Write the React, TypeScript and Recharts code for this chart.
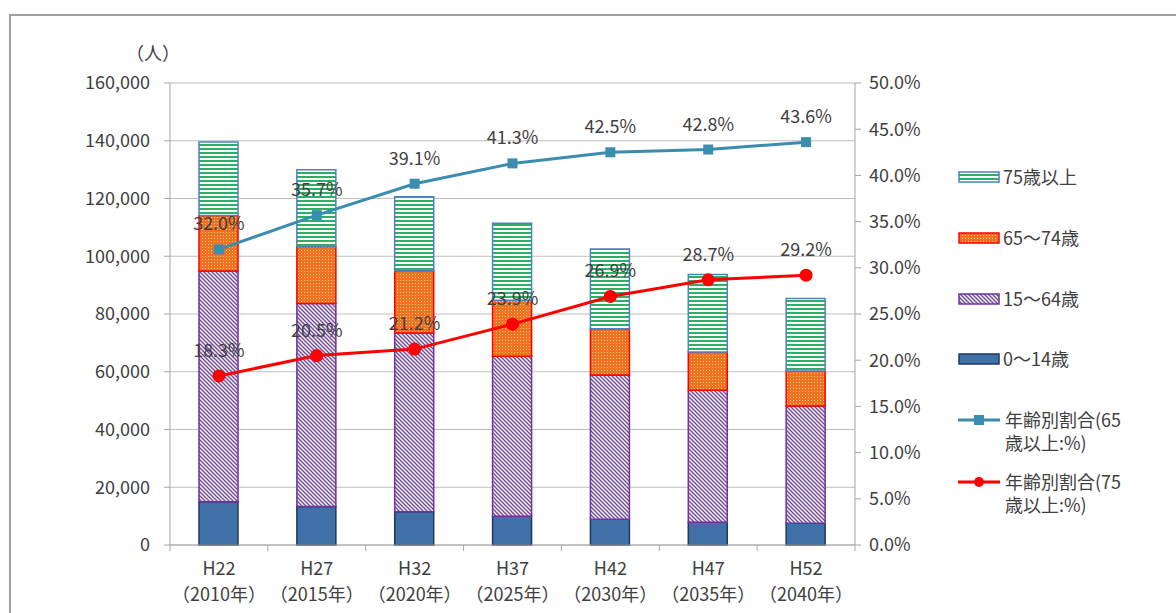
import {
  ComposedChart,
  Bar,
  Line,
  XAxis,
  YAxis,
  CartesianGrid,
  LabelList,
} from "recharts";

// 年齢別人口（人）と高齢化率（%）
const categories = ["H22", "H27", "H32", "H37", "H42", "H47", "H52"];
const years = ["（2010年）", "（2015年）", "（2020年）", "（2025年）", "（2030年）", "（2035年）", "（2040年）"];
const age0to14 = [15000, 13300, 11500, 10000, 8900, 7900, 7500];
const age15to64 = [79900, 70300, 61900, 55400, 50000, 45700, 40600];
const age65to74 = [19200, 19750, 21600, 19400, 16000, 13200, 12200];
const age75plus = [25500, 26650, 25600, 26650, 27600, 26900, 25100];
const ratio65 = [32.0, 35.7, 39.1, 41.3, 42.5, 42.8, 43.6];
const ratio75 = [18.3, 20.5, 21.2, 23.9, 26.9, 28.7, 29.2];
const leftTicks = [0, 20000, 40000, 60000, 80000, 100000, 120000, 140000, 160000];
const rightTicks = [0, 5, 10, 15, 20, 25, 30, 35, 40, 45, 50];

const FONT = '"Noto Sans CJK JP", "Noto Sans", sans-serif';
const TEXT = "#404040";
const AXIS = "#A6A6A6";
const FS = 18;

const data = categories.map((name, i) => ({
  name,
  a0: age0to14[i],
  a15: age15to64[i],
  a65: age65to74[i],
  a75: age75plus[i],
  r65: ratio65[i],
  r75: ratio75[i],
}));

const XTick = (props: any) => {
  const { x, y, payload, index } = props;
  const half = payload && payload.offset > 0 ? payload.offset : 48.9;
  return (
    <g>
      <line x1={x - half} x2={x - half} y1={y} y2={y + 6} stroke={AXIS} />
      {index === categories.length - 1 && (
        <line x1={x + half} x2={x + half} y1={y} y2={y + 6} stroke={AXIS} />
      )}
      <text x={x} y={y + 30} textAnchor="middle" fontSize={FS} fill={TEXT} fontFamily={FONT}>
        {payload.value}
      </text>
      <text x={x} y={y + 56} textAnchor="middle" fontSize={FS} fill={TEXT} fontFamily={FONT}>
        {years[index]}
      </text>
    </g>
  );
};

const pct = (v: any) => Number(v).toFixed(1) + "%";

// legend swatches, same patterns as the bars
function Swatch({ fill, stroke }: { fill: string; stroke: string }) {
  return (
    <svg width={42} height={14} style={{ display: "block" }}>
      <rect x={1} y={2} width={40} height={10} fill={fill} stroke={stroke} strokeWidth={1.5} />
    </svg>
  );
}

function LineSwatch({ color, square }: { color: string; square?: boolean }) {
  return (
    <svg width={44} height={14} style={{ display: "block" }}>
      <line x1={0} x2={42} y1={7} y2={7} stroke={color} strokeWidth={3} />
      {square ? (
        <rect x={16} y={2} width={10} height={10} fill={color} />
      ) : (
        <circle cx={21} cy={7} r={5} fill={color} />
      )}
    </svg>
  );
}

const legendItems = [
  { top: 168, label: "75歳以上", icon: <Swatch fill="url(#pGreen)" stroke="#4F81BD" /> },
  { top: 229, label: "65～74歳", icon: <Swatch fill="url(#pOrange)" stroke="#FF0000" /> },
  { top: 290, label: "15～64歳", icon: <Swatch fill="url(#pPurple)" stroke="#7030A0" /> },
  { top: 350, label: "0～14歳", icon: <Swatch fill="#4070A8" stroke="#1F3A60" /> },
  { top: 411, label: "年齢別割合(65\n歳以上:%)", icon: <LineSwatch color="#3B8DAE" square /> },
  { top: 473, label: "年齢別割合(75\n歳以上:%)", icon: <LineSwatch color="#FF0000" /> },
];

export default function App() {
  return (
    <div
      style={{
        position: "absolute",
        left: 0,
        top: 0,
        width: 1176,
        height: 613,
        overflow: "hidden",
        background: "#fff",
        fontFamily: FONT,
      }}
    >
      <div
        style={{
          position: "absolute",
          left: 9,
          top: 14,
          width: 1200,
          height: 700,
          border: "2px solid #A0A0A0",
        }}
      />
      <div style={{ position: "absolute", left: 126, top: 39, fontSize: FS, color: TEXT, lineHeight: "26px" }}>
        （人）
      </div>

      <div style={{ position: "absolute", left: 0, top: 0 }}>
        <ComposedChart
          width={1176}
          height={613}
          data={data}
          margin={{ top: 83, right: 251, left: 110, bottom: 8 }}
          barSize={39}
        >
          <defs>
            <pattern id="pGreen" width={4} height={4} patternUnits="userSpaceOnUse">
              <rect width={4} height={4} fill="#FFFFFF" />
              <rect width={4} height={2} fill="#2FAE68" />
            </pattern>
            <pattern id="pOrange" width={3} height={3} patternUnits="userSpaceOnUse">
              <rect width={3} height={3} fill="#EE7222" />
              <rect x={1} y={1} width={1} height={1} fill="#F9C878" />
            </pattern>
            <pattern id="pPurple" width={4} height={4} patternUnits="userSpaceOnUse">
              <rect width={4} height={4} fill="#F4EEF8" />
              <path d="M-1,-1 L5,5 M-1,3 L1,5 M3,-1 L5,1" stroke="#6E4A9A" strokeWidth={1.3} />
            </pattern>
          </defs>
          <CartesianGrid yAxisId="left" vertical={false} stroke="#BFBFBF" />
          <XAxis
            dataKey="name"
            height={60}
            axisLine={{ stroke: AXIS }}
            tickLine={false}
            tickSize={0}
            tickMargin={0}
            interval={0}
            tick={<XTick />}
          />
          <YAxis
            yAxisId="left"
            width={60}
            domain={[0, 160000]}
            ticks={leftTicks}
            axisLine={{ stroke: AXIS }}
            tickLine={{ stroke: AXIS }}
            tickSize={6}
            tickMargin={14}
            tick={{ fontSize: FS, fill: TEXT, fontFamily: FONT }}
            tickFormatter={(v) => v.toLocaleString("en-US")}
          />
          <YAxis
            yAxisId="right"
            orientation="right"
            width={70}
            domain={[0, 50]}
            ticks={rightTicks}
            axisLine={{ stroke: AXIS }}
            tickLine={{ stroke: AXIS }}
            tickSize={6}
            tickMargin={8}
            tick={{ fontSize: FS, fill: TEXT, fontFamily: FONT }}
            tickFormatter={pct}
          />
          <Bar yAxisId="left" dataKey="a0" stackId="s" fill="#4070A8" stroke="#1F3A60" strokeWidth={1.5} isAnimationActive={false} />
          <Bar yAxisId="left" dataKey="a15" stackId="s" fill="url(#pPurple)" stroke="#7030A0" strokeWidth={1.5} isAnimationActive={false} />
          <Bar yAxisId="left" dataKey="a65" stackId="s" fill="url(#pOrange)" stroke="#FF0000" strokeWidth={1.5} isAnimationActive={false} />
          <Bar yAxisId="left" dataKey="a75" stackId="s" fill="url(#pGreen)" stroke="#4F81BD" strokeWidth={1.5} isAnimationActive={false} />
          <Line
            yAxisId="right"
            dataKey="r65"
            stroke="#3B8DAE"
            strokeWidth={3}
            dot={(p: any) => (
              <rect key={p.index} x={p.cx - 5} y={p.cy - 5} width={10} height={10} fill="#3B8DAE" />
            )}
            isAnimationActive={false}
          >
            <LabelList dataKey="r65" position="top" offset={19} formatter={pct} fontSize={FS} fill={TEXT} fontFamily={FONT} />
          </Line>
          <Line
            yAxisId="right"
            dataKey="r75"
            stroke="#FF0000"
            strokeWidth={3}
            dot={{ r: 5, fill: "#FF0000", stroke: "#FF0000" }}
            isAnimationActive={false}
          >
            <LabelList dataKey="r75" position="top" offset={19} formatter={pct} fontSize={FS} fill={TEXT} fontFamily={FONT} />
          </Line>
        </ComposedChart>
      </div>

      {legendItems.map((it, i) => (
        <div
          key={i}
          style={{ position: "absolute", left: 958, top: it.top, display: "flex", alignItems: "flex-start" }}
        >
          <div style={{ marginTop: 2 }}>{it.icon}</div>
          <div
            style={{
              fontSize: FS,
              color: TEXT,
              lineHeight: "23px",
              marginTop: -3,
              marginLeft: 3,
              whiteSpace: "pre-line",
            }}
          >
            {it.label}
          </div>
        </div>
      ))}
    </div>
  );
}
